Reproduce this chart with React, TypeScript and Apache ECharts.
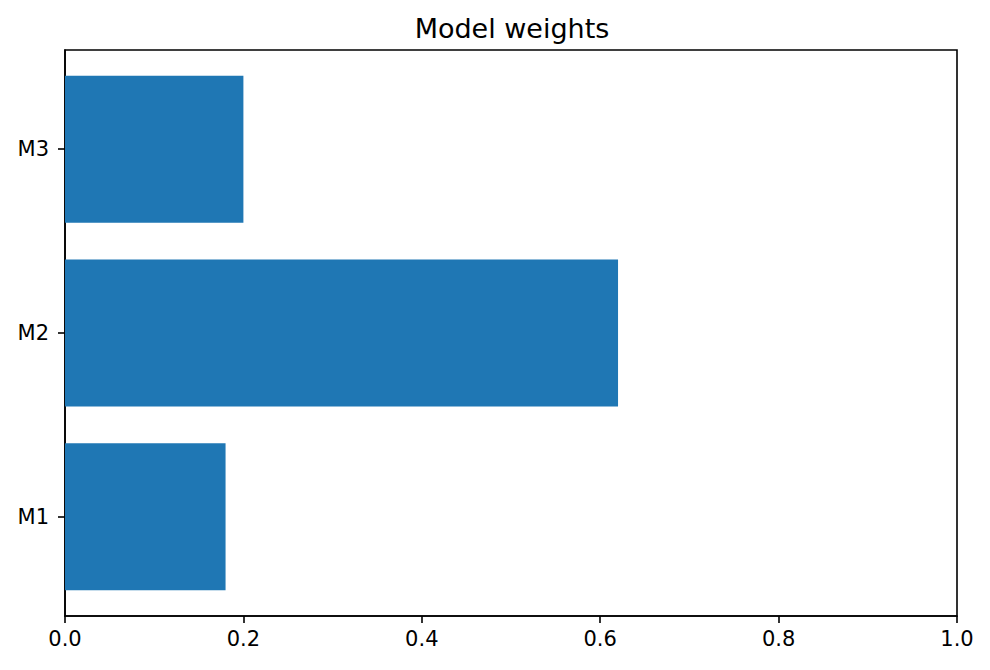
import React, { useEffect, useRef } from 'react';
import * as echarts from 'echarts';

const categories = ['M1', 'M2', 'M3'];
const weights = [0.18, 0.62, 0.2];
const xTicks = [0, 0.2, 0.4, 0.6, 0.8, 1.0];
const yTicks = [0, 1, 2];

const FONT = '"DejaVu Sans", sans-serif';

const App: React.FC = () => {
  const ref = useRef<HTMLDivElement>(null);

  useEffect(() => {
    if (!ref.current) return;
    const chart = echarts.init(ref.current, undefined, { renderer: 'svg' });

    const option: echarts.EChartsOption = {
      animation: false,
      backgroundColor: '#ffffff',
      title: {
        text: 'Model weights',
        left: 507,
        top: 10,
        textAlign: 'center',
        textStyle: { fontFamily: FONT, fontSize: 27, fontWeight: 'normal', color: '#000' }
      },
      grid: {
        left: 65,
        right: 33,
        top: 50,
        bottom: 54,
        show: true,
        borderColor: '#000',
        borderWidth: 1.6
      },
      xAxis: {
        type: 'value',
        min: 0,
        max: 1,
        interval: 0.2,
        splitLine: { show: false },
        axisLine: { show: true, onZero: false, lineStyle: { color: '#000', width: 1.6 } },
        axisTick: { show: true, inside: false, length: 7, lineStyle: { color: '#000', width: 1.6 } },
        axisLabel: {
          margin: 12,
          fontFamily: FONT,
          fontSize: 21,
          color: '#000',
          customValues: xTicks,
          formatter: (v: number) => v.toFixed(1)
        }
      },
      yAxis: {
        type: 'value',
        // matplotlib barh limits: bars of height 0.8 plus 5% margins
        min: -0.54,
        max: 2.54,
        splitLine: { show: false },
        axisLine: { show: true, onZero: false, lineStyle: { color: '#000', width: 1.6 } },
        axisTick: {
          show: true,
          length: 7,
          customValues: yTicks,
          lineStyle: { color: '#000', width: 1.6 }
        },
        axisLabel: {
          margin: 16,
          fontFamily: FONT,
          fontSize: 21,
          color: '#000',
          customValues: yTicks,
          formatter: (v: number) => categories[Math.round(v)] ?? ''
        }
      },
      series: [
        {
          type: 'custom',
          encode: { x: 0, y: 1 },
          data: weights.map((w, i) => [w, i]),
          renderItem: (params: any, api: any) => {
            const start = api.coord([0, api.value(1)]);
            const end = api.coord([api.value(0), api.value(1)]);
            const h = api.size([0, 0.8])[1];
            return {
              type: 'rect',
              shape: { x: start[0], y: start[1] - h / 2, width: end[0] - start[0], height: h },
              style: { fill: '#1f77b4' }
            };
          }
        }
      ]
    };

    chart.setOption(option);

    return () => {
      chart.dispose();
    };
  }, []);

  return (
    <div
      ref={ref}
      style={{ position: 'fixed', left: 0, top: 0, width: '990px', height: '670px' }}
    ></div>
  );
};

export default App;
